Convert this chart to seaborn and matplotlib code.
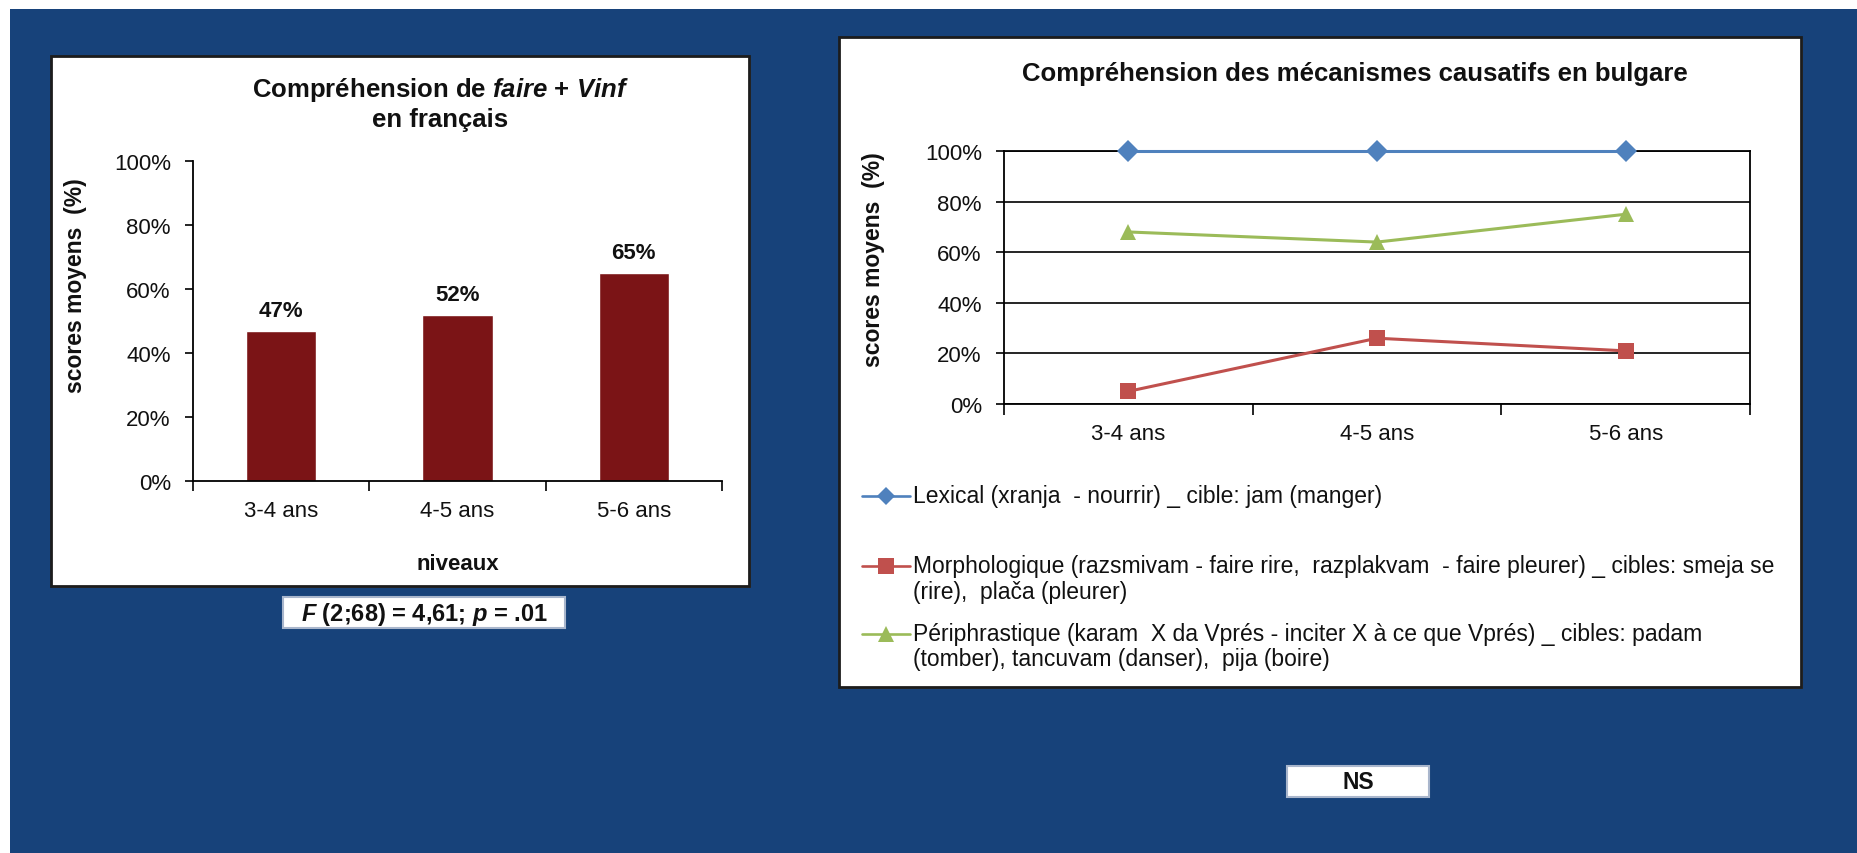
import matplotlib
matplotlib.use("Agg")
import matplotlib.pyplot as plt
import pandas as pd
import seaborn as sns
from matplotlib.patches import Rectangle
from matplotlib.lines import Line2D
from matplotlib.ticker import PercentFormatter, FixedLocator

# ---- data -------------------------------------------------------------
niveaux = ["3-4 ans", "4-5 ans", "5-6 ans"]
scores_fr = [47, 52, 65]

series = ["Lexical", "Morphologique", "Périphrastique"]
lexical = [100, 100, 100]
morphologique = [5, 26, 21]
periphrastique = [68, 64, 75]

legend_labels = [
    "Lexical (xranja  - nourrir) _ cible: jam (manger)",
    "Morphologique (razsmivam - faire rire,  razplakvam  - faire pleurer) _ cibles: smeja se\n(rire),  plača (pleurer)",
    "Périphrastique (karam  X da Vprés - inciter X à ce que Vprés) _ cibles: padam\n(tomber), tancuvam (danser),  pija (boire)",
]
stat_fr = r"$\mathbfit{F}$ (2;68) = 4,61; $\mathbfit{p}$ = .01"
stat_bg = "NS"

# ---- style ------------------------------------------------------------
W, H = 1858, 854
BLUE_BG = "#17427A"
BAR = "#7B1416"
INK = "#111111"
COLORS = {"Lexical": "#4F81BD", "Morphologique": "#C0504D", "Périphrastique": "#9BBB59"}
MARKERS = {"Lexical": "D", "Morphologique": "s", "Périphrastique": "^"}
MSIZE = {"Lexical": 11, "Morphologique": 12, "Périphrastique": 12}
LEG_MSIZE = {"Lexical": 9, "Morphologique": 11, "Périphrastique": 11}

sns.set_theme(style="white")
plt.rcParams["font.family"] = ["Liberation Sans", "DejaVu Sans"]
plt.rcParams["mathtext.fontset"] = "custom"
plt.rcParams["mathtext.bfit"] = "Liberation Sans:italic:bold"
plt.rcParams["mathtext.it"] = "Liberation Sans:italic"
plt.rcParams["mathtext.rm"] = "Liberation Sans"
plt.rcParams["mathtext.bf"] = "Liberation Sans:bold"


def px_rect(x0, y0, x1, y1):
    return [x0 / W, 1 - y1 / H, (x1 - x0) / W, (y1 - y0) / H]


def fx(x):
    return x / W


def fy(y):
    return 1 - y / H


fig = plt.figure(figsize=(W / 100, H / 100), dpi=100, facecolor="white")

# slide background
fig.patches.append(Rectangle((fx(10), 0), 1 - fx(10), fy(10), transform=fig.transFigure,
                             facecolor=BLUE_BG, edgecolor="none", zorder=-3))


def panel(x0, y0, x1, y1, edge="#1c1c1c", lw=2.0, shadow=True):
    if shadow:
        fig.patches.append(Rectangle((fx(x0 + 2), fy(y1 + 2)), fx(x1 - x0), (y1 - y0) / H,
                                     transform=fig.transFigure, facecolor="#555555",
                                     edgecolor="none", zorder=-2.5))
    fig.patches.append(Rectangle((fx(x0), fy(y1)), fx(x1 - x0), (y1 - y0) / H,
                                 transform=fig.transFigure, facecolor="white",
                                 edgecolor=edge, linewidth=lw, zorder=-2))


panel(51, 57, 749, 587)
panel(839, 38, 1801, 688)
panel(283, 598, 565, 629, edge="#A9B6CC", lw=1.5, shadow=False)
panel(1287, 767, 1429, 798, edge="#A9B6CC", lw=1.5, shadow=False)

TICK_FS = 16
TITLE_FS = 18.5
LABEL_FS = 16.5
LEG_FS = 16.5

# ---- left: bar chart ----------------------------------------------------
ax1 = fig.add_axes(px_rect(193, 162, 722, 482))
ax1.patch.set_alpha(0)
df_fr = pd.DataFrame({"niveau": niveaux, "score": scores_fr})
sns.barplot(data=df_fr, x="niveau", y="score", color=BAR, saturation=1, width=0.4, ax=ax1)
ax1.bar_label(ax1.containers[0], labels=[f"{v}%" for v in scores_fr], padding=7,
              fontsize=TICK_FS, fontweight="bold", color=INK)
ax1.set_ylim(0, 100)
ax1.set_xlim(-0.5, 2.5)
ax1.yaxis.set_major_locator(FixedLocator([0, 20, 40, 60, 80, 100]))
ax1.yaxis.set_major_formatter(PercentFormatter(100, decimals=0))
ax1.xaxis.set_minor_locator(FixedLocator([-0.5, 0.5, 1.5, 2.5]))
for s in ["top", "right"]:
    ax1.spines[s].set_visible(False)
for s in ["left", "bottom"]:
    ax1.spines[s].set_color("black")
    ax1.spines[s].set_linewidth(1.3)
ax1.tick_params(axis="y", which="major", direction="out", length=6, width=1.2, color="black",
                labelsize=TICK_FS, labelcolor=INK, pad=10, left=True)
ax1.tick_params(axis="x", which="major", length=0, labelsize=TICK_FS, labelcolor=INK, pad=14)
ax1.tick_params(axis="x", which="minor", direction="out", length=7, width=1.2, color="black", bottom=True)
ax1.set_xlabel("niveaux", fontsize=TICK_FS, fontweight="bold", color=INK)
ax1.xaxis.set_label_coords(0.5, -0.225)
ax1.set_ylabel("scores moyens  (%)", fontsize=LABEL_FS, fontweight="bold", color=INK)
ax1.yaxis.set_label_coords(-0.2, 0.615)

fig.text(fx(440), fy(90), r"Compréhension de $\mathbfit{faire}$ + $\mathbfit{Vinf}$",
         ha="center", va="center", fontsize=TITLE_FS, fontweight="bold", color=INK)
fig.text(fx(440), fy(120), "en français", ha="center", va="center",
         fontsize=TITLE_FS, fontweight="bold", color=INK)

# ---- right: line chart --------------------------------------------------
ax2 = fig.add_axes(px_rect(1004, 152, 1750, 405))
ax2.patch.set_alpha(0)
df_bg = pd.DataFrame({
    "niveau": niveaux * 3,
    "série": [series[0]] * 3 + [series[1]] * 3 + [series[2]] * 3,
    "score": lexical + morphologique + periphrastique,
})
sns.lineplot(data=df_bg, x="niveau", y="score", hue="série", style="série",
             palette=COLORS, markers=MARKERS, dashes=False, sort=False,
             linewidth=2.2, markersize=10, markeredgewidth=0, legend=False, ax=ax2)
for ln, name in zip(ax2.lines, series):
    ln.set_clip_on(False)
    ln.set_zorder(3)
    ln.set_markersize(MSIZE[name])
ax2.set_ylim(0, 100)
ax2.set_xlim(-0.5, 2.5)
ax2.yaxis.set_major_locator(FixedLocator([0, 20, 40, 60, 80, 100]))
ax2.yaxis.set_major_formatter(PercentFormatter(100, decimals=0))
ax2.set_xticks([0, 1, 2])
ax2.set_xticklabels(niveaux)
ax2.xaxis.set_minor_locator(FixedLocator([-0.5, 0.5, 1.5, 2.5]))
ax2.yaxis.grid(True, color="black", linewidth=1.2)
ax2.set_axisbelow(True)
for s in ax2.spines.values():
    s.set_color("black")
    s.set_linewidth(1.3)
ax2.tick_params(axis="y", which="major", direction="out", length=6, width=1.2, color="black",
                labelsize=TICK_FS, labelcolor=INK, pad=10, left=True)
ax2.tick_params(axis="x", which="major", length=0, labelsize=TICK_FS, labelcolor=INK, pad=14)
ax2.tick_params(axis="x", which="minor", direction="out", length=8, width=1.2, color="black", bottom=True)
ax2.set_xlabel("")
ax2.set_ylabel("scores moyens  (%)", fontsize=LABEL_FS, fontweight="bold", color=INK)
ax2.yaxis.set_label_coords(-0.16, 0.575)

fig.text(fx(1355), fy(74), "Compréhension des mécanismes causatifs en bulgare",
         ha="center", va="center", fontsize=TITLE_FS, fontweight="bold", color=INK)

# legend below the line chart
legend_rows = [497, 567, 635]
for name, label, ypix in zip(series, legend_labels, legend_rows):
    fig.add_artist(Line2D([fx(862), fx(910)], [fy(ypix), fy(ypix)], color=COLORS[name],
                          linewidth=1.9, transform=fig.transFigure))
    fig.add_artist(Line2D([fx(886)], [fy(ypix)], color=COLORS[name], marker=MARKERS[name],
                          markersize=LEG_MSIZE[name], markeredgewidth=0, linestyle="none",
                          transform=fig.transFigure))
    for k, part in enumerate(label.split("\n")):
        fig.text(fx(913), fy(ypix + 25 * k), part, ha="left", va="center",
                 fontsize=LEG_FS, color=INK)

# statistics boxes
fig.text(fx(424), fy(614), stat_fr, ha="center", va="center", fontsize=17,
         fontweight="bold", color=INK)
fig.text(fx(1358), fy(783), stat_bg, ha="center", va="center", fontsize=16.5,
         fontweight="bold", color=INK)

fig.savefig("out.png", dpi=100, facecolor=fig.get_facecolor())
